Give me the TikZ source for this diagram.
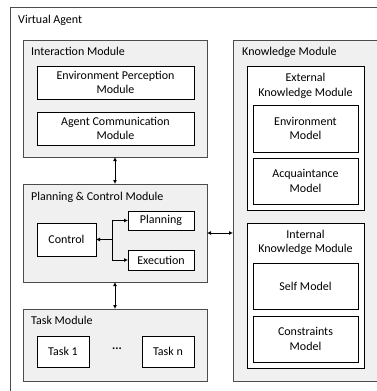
\documentclass[tikz,border=0pt]{standalone}
\usepackage{fontspec}
\setmainfont{Carlito}
\usetikzlibrary{arrows.meta}

\tikzset{
  box/.style={draw, anchor=north west, inner sep=0pt, outer sep=0pt, line width=0.8pt},
  module/.style={box, draw=black!70, fill=black!6},
  part/.style={box, draw=black, fill=white, align=center},
  title/.style={anchor=west, inner sep=0pt},
  link/.style={<->, >={Latex[length=4pt,width=4pt]}, line width=0.8pt},
  branch/.style={->, >={Latex[length=4pt,width=4pt]}, line width=0.8pt},
}

\begin{document}
\begin{tikzpicture}[x=1pt, y=-1pt, font=\fontsize{12}{14.5}\selectfont]
    \clip (0, 0) rectangle (377, 391);
    \node[box, draw=black!70, fill=white, minimum width=380pt, minimum height=400pt] (agent) at (10, 7) {};
    \node[title] (agentlbl) at (18, 20) {Virtual Agent};

    % interaction
    \node[module, minimum width=184pt, minimum height=117pt] (inter) at (23, 40) {};
    \node[title] (interlbl) at (31, 51) {Interaction Module};
    \node[part, minimum width=157pt, minimum height=33pt] (envp) at (37, 66) {Environment Perception\\Module};
    \node[part, minimum width=157pt, minimum height=33pt] (agcom) at (37, 112) {Agent Communication\\Module};

    % planning and control
    \node[module, minimum width=184pt, minimum height=98pt] (plan) at (23, 184) {};
    \node[title] (planlbl) at (31, 197) {Planning \& Control Module};
    \node[part, minimum width=59pt, minimum height=33pt] (ctrl) at (37, 223) {Control};
    \node[part, minimum width=66pt, minimum height=19pt] (pln) at (128, 211) {Planning};
    \node[part, minimum width=66pt, minimum height=20pt] (exe) at (128, 250) {Execution};
    \coordinate (fork) at (112, 239.5);

    % tasks
    \node[module, minimum width=184pt, minimum height=72pt] (task) at (23, 309) {};
    \node[title] (tasklbl) at (31, 320) {Task Module};
    \node[part, minimum width=52pt, minimum height=31pt] (t1) at (37, 336) {Task 1};
    \node[part, minimum width=52pt, minimum height=31pt] (tn) at (142, 336) {Task n};
    \node (dots) at (117, 349) {\textbf{...}};

    % knowledge
    \node[module, minimum width=170pt, minimum height=341pt] (know) at (233, 40) {};
    \node[title] (knowlbl) at (242, 52) {Knowledge Module};
    \node[part, minimum width=117pt, minimum height=144pt] (ext) at (247, 66) {};
    \node[align=center, inner sep=0pt] (extlbl) at (305.5, 86) {External\\Knowledge Module};
    \node[part, minimum width=105pt, minimum height=47pt] (envm) at (253, 105) {Environment\\Model};
    \node[part, minimum width=105pt, minimum height=46pt] (acq) at (253, 158) {Acquaintance\\Model};
    \node[part, minimum width=117pt, minimum height=145pt] (int) at (247, 223) {};
    \node[align=center, inner sep=0pt] (intlbl) at (305.5, 242.5) {Internal\\Knowledge Module};
    \node[part, minimum width=105pt, minimum height=46pt] (self) at (253, 263) {Self Model};
    \node[part, minimum width=105pt, minimum height=46pt] (cons) at (253, 316) {Constraints\\Model};

    \draw[link] (inter.south) -- (plan.north);
    \draw[link] (plan.south) -- (task.north);
    \draw[link] (plan.east) -- (plan.east -| know.west);
    \draw[branch] (fork) -- (ctrl.east);
    \draw[branch] (fork) |- (pln.west);
    \draw[branch] (fork) |- (exe.west);
\end{tikzpicture}
\end{document}
